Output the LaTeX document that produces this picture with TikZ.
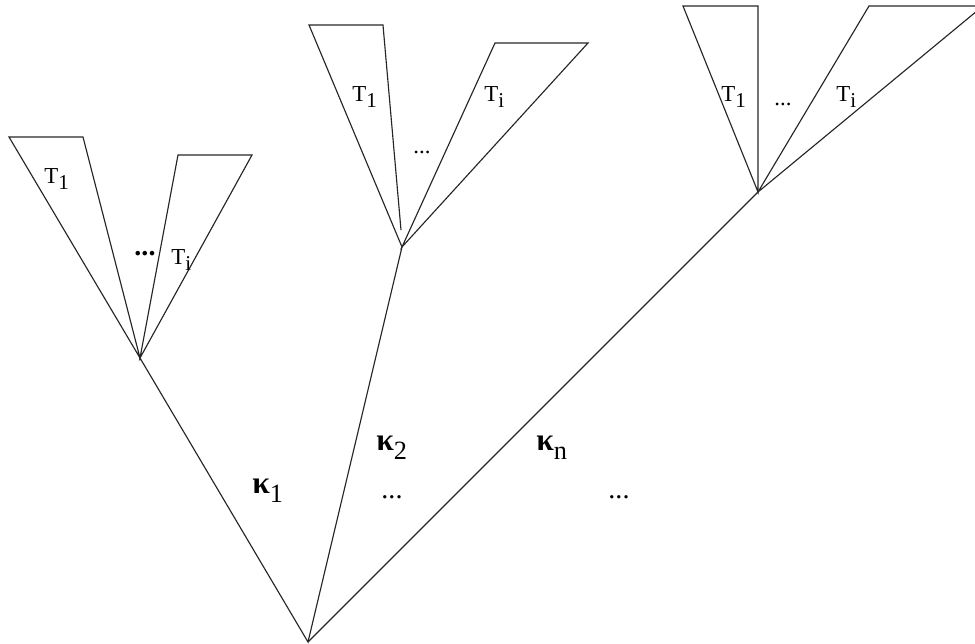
\documentclass[tikz,border=0pt]{standalone}
\usepackage{fontspec}
\setmainfont{Liberation Serif}
\usetikzlibrary{positioning}
\newcommand{\lowsub}[2][3pt]{\raisebox{-#1}{\fontsize{12}{14}\selectfont #2}}
\tikzset{
  branch/.style={draw=black!85,line width=0.65pt,line join=miter},
  subtree/.style={draw=black!85,line width=0.65pt,line join=miter},
  tlbl/.style={font=\fontsize{13}{15}\selectfont,anchor=base west,inner sep=0pt},
  klbl/.style={font=\fontsize{18}{20}\selectfont,anchor=base west,inner sep=0pt},
  dotlbl/.style={font=\fontsize{13}{15}\selectfont,inner sep=0pt},
  bigdots/.style={font=\fontsize{16}{18}\selectfont\bfseries,inner sep=0pt},
}
\begin{document}
\begin{tikzpicture}[x=0.02cm,y=-0.02cm]
  \clip (0,0) rectangle (975,644);
  \coordinate (root) at (308,642);
  \coordinate (a1) at (140,358);
  \coordinate (a2) at (402,247);
  \coordinate (a3) at (758,192);
  \draw[branch] (a1) -- (root) -- (a2);
  \draw[branch] (root) -- (a3);
  % first group
  \coordinate (p11) at (9,137);   \coordinate (p12) at (83,137);
  \coordinate (q11) at (178,155); \coordinate (q12) at (252,155);
  \draw[subtree] (a1) -- (p11) -- (p12) -- cycle;
  \draw[subtree] (a1) -- (q11) -- (q12) -- cycle;
  \node[tlbl] (t11) at (44,184) {T\lowsub{1}};
  \node[tlbl] (t1i) at (171,265) {T\lowsub{i}};
  \node[bigdots] (d1) at (145,254) {...};
  % second group
  \coordinate (p21) at (309,25);  \coordinate (p22) at (383,25);
  \coordinate (e22) at (401,230);
  \coordinate (q21) at (495,43);  \coordinate (q22) at (588,43);
  \draw[subtree] (a2) -- (p21) -- (p22) -- (e22);
  \draw[subtree] (a2) -- (q21) -- (q22) -- cycle;
  \node[tlbl] (t21) at (352,102) {T\lowsub{1}};
  \node[tlbl] (t2i) at (484,102) {T\lowsub{i}};
  \node[dotlbl] (d2) at (422,152) {...};
  % third group
  \coordinate (p31) at (683,6);   \coordinate (p32) at (758,6);
  \coordinate (q31) at (869,6);   \coordinate (q32) at (983,6);
  \draw[subtree] (a3) -- (p31) -- (p32) -- cycle;
  \draw[subtree] (a3) -- (q31) -- (q32) -- cycle;
  \node[tlbl] (t31) at (721,102) {T\lowsub{1}};
  \node[tlbl] (t3i) at (836,102) {T\lowsub{i}};
  \node[dotlbl] (d3) at (783,104) {...};
  % branch labels
  \node[klbl] (k1) at (252,494) {\textbf{κ}\lowsub[5pt]{\fontsize{15}{17}\selectfont 1}};
  \node[klbl] (k2) at (376,451) {\textbf{κ}\lowsub[5pt]{\fontsize{15}{17}\selectfont 2}};
  \node[klbl] (kn) at (536,451) {\textbf{κ}\lowsub[5pt]{\fontsize{15}{17}\selectfont n}};
  \node[dotlbl,font=\fontsize{16}{18}\selectfont] (dk2) at (392,497) {...};
  \node[dotlbl,font=\fontsize{16}{18}\selectfont] (dkn) at (619,497) {...};
\end{tikzpicture}
\end{document}
